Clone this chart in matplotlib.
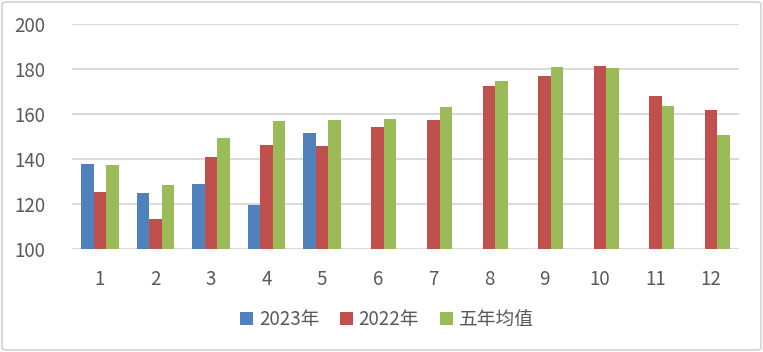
import matplotlib.pyplot as plt
import numpy as np
from matplotlib.patches import FancyBboxPatch

plt.rcParams['font.family'] = ['Noto Sans CJK SC', 'DejaVu Sans']

months = ['1', '2', '3', '4', '5', '6', '7', '8', '9', '10', '11', '12']
y2023 = [137.9, 125.0, 129.0, 119.7, 151.7, np.nan, np.nan, np.nan, np.nan, np.nan, np.nan, np.nan]
y2022 = [125.5, 113.5, 141.0, 146.4, 145.9, 154.4, 157.5, 172.6, 177.0, 181.5, 168.1, 161.9]
avg5 = [137.5, 128.6, 149.5, 157.0, 157.5, 157.9, 163.2, 174.8, 181.0, 180.6, 163.7, 150.8]

fig = plt.figure(figsize=(7.63, 3.52), dpi=100)
ax = fig.add_axes([72 / 763, 1 - 249.3 / 352, 667 / 763, 225.3 / 352])

x = np.arange(len(months))
w = 0.225
ax.bar(x - w, np.array(y2023) - 100, w, bottom=100, color='#4F81BD', label='2023年', zorder=3)
ax.bar(x, np.array(y2022) - 100, w, bottom=100, color='#C0504D', label='2022年', zorder=3)
ax.bar(x + w, np.array(avg5) - 100, w, bottom=100, color='#9BBB59', label='五年均值', zorder=3)

ax.set_ylim(100, 200)
ax.set_xlim(-0.5, 11.5)
ax.set_yticks(range(100, 201, 20))
ax.set_xticks(x)
ax.set_xticklabels(months)
ax.grid(axis='y', color='#D9D9D9', linewidth=1.4, zorder=0)
for s in ax.spines.values():
    s.set_visible(False)
ax.tick_params(axis='both', length=0, labelsize=13.5, labelcolor='#595959')
ax.tick_params(axis='x', pad=14)
ax.tick_params(axis='y', pad=19)

fig.legend(loc='center', bbox_to_anchor=(0.507, 0.091), ncol=3, frameon=False,
           fontsize=13.5, labelcolor='#595959', handlelength=0.7, handleheight=0.7,
           handletextpad=0.3, columnspacing=1.1)

border = FancyBboxPatch((2 / 763, 2 / 352), 759 / 763, 348 / 352,
                        boxstyle='round,pad=0,rounding_size=0.006',
                        transform=fig.transFigure, facecolor='none',
                        edgecolor='#D9D9D9', linewidth=1.5)
fig.patches.append(border)

fig.savefig('out.png', dpi=100)
